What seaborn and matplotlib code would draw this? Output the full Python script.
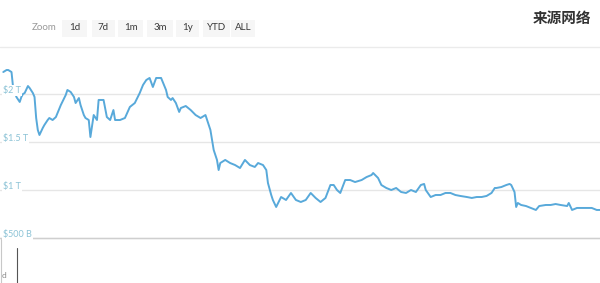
import matplotlib
matplotlib.use("Agg")
import matplotlib.pyplot as plt
import matplotlib.transforms as mtransforms
from matplotlib.patches import Rectangle
import seaborn as sns
import pandas as pd
import numpy as np

sns.set_theme(style="white")
plt.rcParams['font.family'] = ['Lato', 'Noto Sans CJK SC', 'DejaVu Sans']

# ---------------- data ----------------
start_date = "2022-01-01"
end_date = "2023-01-01"
day_offset = [2, 4, 5, 7, 8, 10, 12, 13, 14, 15, 17, 18, 20, 21, 22, 23, 24, 26, 27, 29,
              30, 32, 34, 35, 37, 40, 41, 43, 45, 46, 48, 49, 51, 52, 54, 55, 57, 59, 60, 63,
              65, 67, 69, 70, 73, 76, 79, 82, 85, 87, 89, 91, 93, 95, 98, 101, 102, 104, 105, 107,
              109, 110, 113, 116, 119, 122, 125, 128, 130, 132, 133, 134, 137, 140, 143, 146, 149, 152, 155, 157,
              160, 162, 163, 165, 166, 168, 171, 174, 177, 180, 183, 186, 189, 192, 195, 198, 201, 203, 205, 207,
              210, 213, 216, 220, 223, 226, 227, 230, 232, 235, 238, 241, 244, 247, 250, 253, 256, 258, 259, 262,
              265, 268, 271, 274, 277, 280, 284, 287, 290, 293, 296, 299, 301, 302, 305, 308, 310, 311, 313, 314,
              315, 317, 320, 323, 326, 328, 332, 335, 338, 341, 345, 346, 348, 351, 354, 357, 360, 363, 366]
market_cap_trillion = [2.229, 2.250, 2.250, 2.229, 2.063, 1.969, 1.917, 1.969, 2.000, 2.010, 2.083, 2.063, 2.010, 1.969, 1.750, 1.625, 1.573, 1.646, 1.677, 1.729,
                       1.750, 1.729, 1.760, 1.802, 1.885, 1.990, 2.042, 2.021, 1.969, 1.906, 1.958, 1.885, 1.781, 1.750, 1.729, 1.552, 1.781, 1.729, 1.938, 1.938,
                       1.760, 1.729, 1.833, 1.729, 1.729, 1.750, 1.865, 1.906, 2.010, 2.094, 2.146, 2.167, 2.073, 2.167, 2.167, 2.042, 1.969, 1.938, 1.958, 1.906,
                       1.813, 1.854, 1.875, 1.833, 1.781, 1.750, 1.781, 1.625, 1.417, 1.313, 1.208, 1.281, 1.313, 1.281, 1.260, 1.229, 1.313, 1.260, 1.240, 1.281,
                       1.260, 1.208, 1.073, 0.948, 0.896, 0.823, 0.927, 0.896, 0.969, 0.896, 0.875, 0.896, 0.969, 0.917, 0.875, 0.917, 1.052, 1.052, 1.000, 0.969,
                       1.104, 1.104, 1.083, 1.104, 1.135, 1.156, 1.177, 1.125, 1.052, 1.021, 1.000, 1.021, 0.979, 0.969, 1.000, 0.979, 1.052, 1.063, 1.000, 0.927,
                       0.948, 0.948, 0.969, 0.969, 0.948, 0.938, 0.927, 0.917, 0.927, 0.927, 0.938, 0.969, 1.021, 1.021, 1.031, 1.052, 1.063, 1.052, 0.979, 0.823,
                       0.865, 0.844, 0.833, 0.813, 0.792, 0.833, 0.844, 0.844, 0.854, 0.844, 0.833, 0.865, 0.792, 0.813, 0.813, 0.813, 0.813, 0.792, 0.792]
tick_values = [0.5, 1.0, 1.5, 2.0]
tick_labels = ["$500 B", "$1 T", "$1.5 T", "$2 T"]
zoom_buttons = ["1d", "7d", "1m", "3m", "1y", "YTD", "ALL"]
watermark = "来源网络"

df = pd.DataFrame({
    "date": pd.to_datetime(start_date) + pd.to_timedelta(day_offset, unit="D"),
    "cap": market_cap_trillion,
})

# ---------------- figure ----------------
W, H = 600, 283
fig = plt.figure(figsize=(W / 100, H / 100), dpi=100)
fig.patch.set_facecolor("white")

# decoration layer in pixel coordinates
ov = fig.add_axes([0, 0, 1, 1])
ov.set_xlim(0, W)
ov.set_ylim(H, 0)
ov.axis("off")
ov.set_zorder(0)

# main chart axes
px = 1.0 / 96.0  # trillion per pixel
ax = fig.add_axes([0, (H - 248) / H, 1, 198 / H])
ax.set_zorder(1)
ax.patch.set_alpha(0)

sns.lineplot(data=df, x="date", y="cap", ax=ax, color="#58a9da", linewidth=1.4)

ax.set_xlim(pd.to_datetime(start_date), pd.to_datetime(end_date))
ax.set_ylim(0.5 - 10 * px, 2.0 + 44 * px)
ax.set_yticks(tick_values)
ax.set_yticklabels([])
ax.set_xticks([])
ax.set_xlabel("")
ax.set_ylabel("")
ax.tick_params(left=False, bottom=False)
for s in ["top", "right", "left"]:
    ax.spines[s].set_visible(False)
ax.spines["bottom"].set_position(("data", 0.5))
ax.spines["bottom"].set_color("#cfcfcf")
ax.spines["bottom"].set_linewidth(1.0)
ax.grid(axis="y", color="#e6e6e6", linewidth=1.0)
ax.set_axisbelow(True)

trans = mtransforms.blended_transform_factory(ax.transAxes, ax.transData)
offset = mtransforms.ScaledTranslation(0, 2.5 / 72, fig.dpi_scale_trans)
for v, lab in zip(tick_values, tick_labels):
    ax.text(3 / W, v, lab, transform=trans + offset, ha="left", va="center",
            fontsize=6.5, color="#8cc3d6", zorder=3,
            bbox=dict(facecolor="white", edgecolor="none", pad=0.6))

# top toolbar
ov.text(44, 28, "Zoom", ha="center", va="center", fontsize=7, color="#999999")
btn_boxes = [(62, 25), (92, 23), (118, 25), (147, 26), (176, 23), (203, 27), (231, 24)]
for lab, (x0, w) in zip(zoom_buttons, btn_boxes):
    ov.add_patch(Rectangle((x0, 19.5), w, 17, facecolor="#f6f6f6", edgecolor="none"))
    ov.text(x0 + w / 2, 28, lab, ha="center", va="center", fontsize=7, color="#3a3a3a")

ov.plot([0, W], [47, 47], color="#ebebeb", linewidth=1.0)
ov.text(562, 18, watermark, ha="center", va="center", fontsize=10.5, fontweight="bold",
        color="#333333", family=["Noto Sans CJK SC", "DejaVu Sans"])

# navigator remnants at bottom
ov.plot([17, 17], [248, H], color="#555555", linewidth=0.8)
ov.plot([1, 1], [238, H], color="#c8c8c8", linewidth=0.8)
ov.text(2, 276, "d", ha="left", va="center", fontsize=6, color="#888888")

fig.savefig("out.png", dpi=100)
